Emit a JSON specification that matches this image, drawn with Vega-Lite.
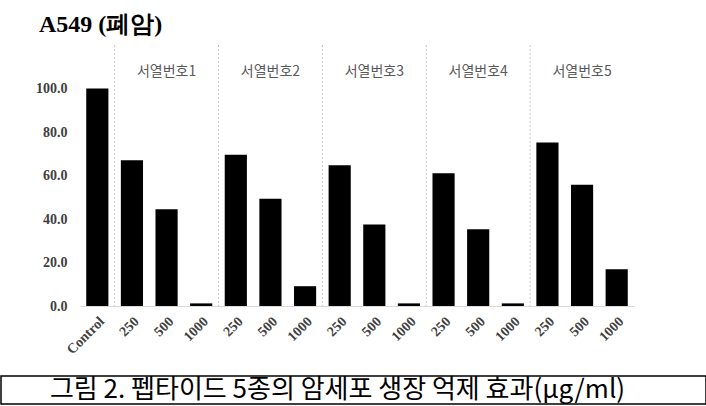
{
  "$schema": "https://vega.github.io/schema/vega-lite/v6.json",
  "padding": {"left": 0, "top": 12, "right": 0, "bottom": 0},
  "spacing": 18,
  "config": {"view": {"stroke": null}},
  "datasets": {
    "bars": [
      {"bar": "Control", "dose": "Control", "group": "", "value": 100},
      {"bar": "250|1", "dose": "250", "group": "서열번호1", "value": 67.0},
      {"bar": "500|1", "dose": "500", "group": "서열번호1", "value": 44.5},
      {"bar": "1000|1", "dose": "1000", "group": "서열번호1", "value": 1.2},
      {"bar": "250|2", "dose": "250", "group": "서열번호2", "value": 69.5},
      {"bar": "500|2", "dose": "500", "group": "서열번호2", "value": 49.3},
      {"bar": "1000|2", "dose": "1000", "group": "서열번호2", "value": 9.1},
      {"bar": "250|3", "dose": "250", "group": "서열번호3", "value": 64.7},
      {"bar": "500|3", "dose": "500", "group": "서열번호3", "value": 37.5},
      {"bar": "1000|3", "dose": "1000", "group": "서열번호3", "value": 1.2},
      {"bar": "250|4", "dose": "250", "group": "서열번호4", "value": 61.0},
      {"bar": "500|4", "dose": "500", "group": "서열번호4", "value": 35.3},
      {"bar": "1000|4", "dose": "1000", "group": "서열번호4", "value": 1.2},
      {"bar": "250|5", "dose": "250", "group": "서열번호5", "value": 75.2},
      {"bar": "500|5", "dose": "500", "group": "서열번호5", "value": 55.7},
      {"bar": "1000|5", "dose": "1000", "group": "서열번호5", "value": 16.9}
    ]
  },
  "vconcat": [
    {
      "width": 706,
      "height": 261,
      "title": {"text": "A549 (폐암)", "anchor": "start", "frame": "group", "dx": 38, "offset": 8, "font": "Liberation Serif", "fontSize": 24, "fontWeight": "bold", "color": "#000000"},
      "data": {"name": "bars"},
      "layer": [
        {
          "mark": {"type": "bar", "color": "#000000", "width": {"band": 0.64}},
          "encoding": {
            "x": {
              "field": "bar", "type": "nominal", "sort": null,
              "scale": {"paddingInner": 0, "paddingOuter": 0, "range": [79, 633]},
              "axis": {"title": null, "ticks": false, "domainColor": "#d9d9d9", "labelAngle": -45, "labelFont": "Liberation Serif", "labelFontWeight": "bold", "labelFontSize": 14, "labelColor": "#404040", "labelPadding": 8, "labelExpr": "split(datum.value, '|')[0]"}
            },
            "y": {
              "field": "value", "type": "quantitative",
              "scale": {"domain": [0, 117]},
              "axis": {"title": null, "domain": false, "ticks": false, "grid": false, "values": [0, 20, 40, 60, 80, 100], "format": ".1f", "labelFont": "Liberation Serif", "labelFontWeight": "bold", "labelFontSize": 14, "labelColor": "#404040", "labelPadding": 13, "offset": -79}
            }
          }
        },
        {
          "mark": {"type": "rule", "color": "#c8c8c8", "strokeDash": [2, 2]},
          "transform": [{"filter": "datum.dose == '250'"}],
          "encoding": {
            "x": {"field": "bar", "type": "nominal", "sort": null, "bandPosition": 0}
          }
        },
        {
          "mark": {"type": "text", "font": "Noto Sans CJK KR", "fontSize": 14, "color": "#595959", "baseline": "middle"},
          "transform": [{"filter": "datum.dose == '500'"}],
          "encoding": {
            "x": {"field": "bar", "type": "nominal", "sort": null},
            "y": {"datum": 107.5},
            "text": {"field": "group"}
          }
        }
      ]
    },
    {
      "width": 705,
      "height": 28,
      "view": {"stroke": "#000000", "strokeWidth": 1.5},
      "data": {"values": [{"caption": "그림 2. 펩타이드 5종의 암세포 생장 억제 효과(μg/ml)"}]},
      "mark": {"type": "text", "font": "Noto Sans CJK KR", "fontSize": 26, "color": "#000000", "dx": -16},
      "encoding": {"text": {"field": "caption"}}
    }
  ]
}
